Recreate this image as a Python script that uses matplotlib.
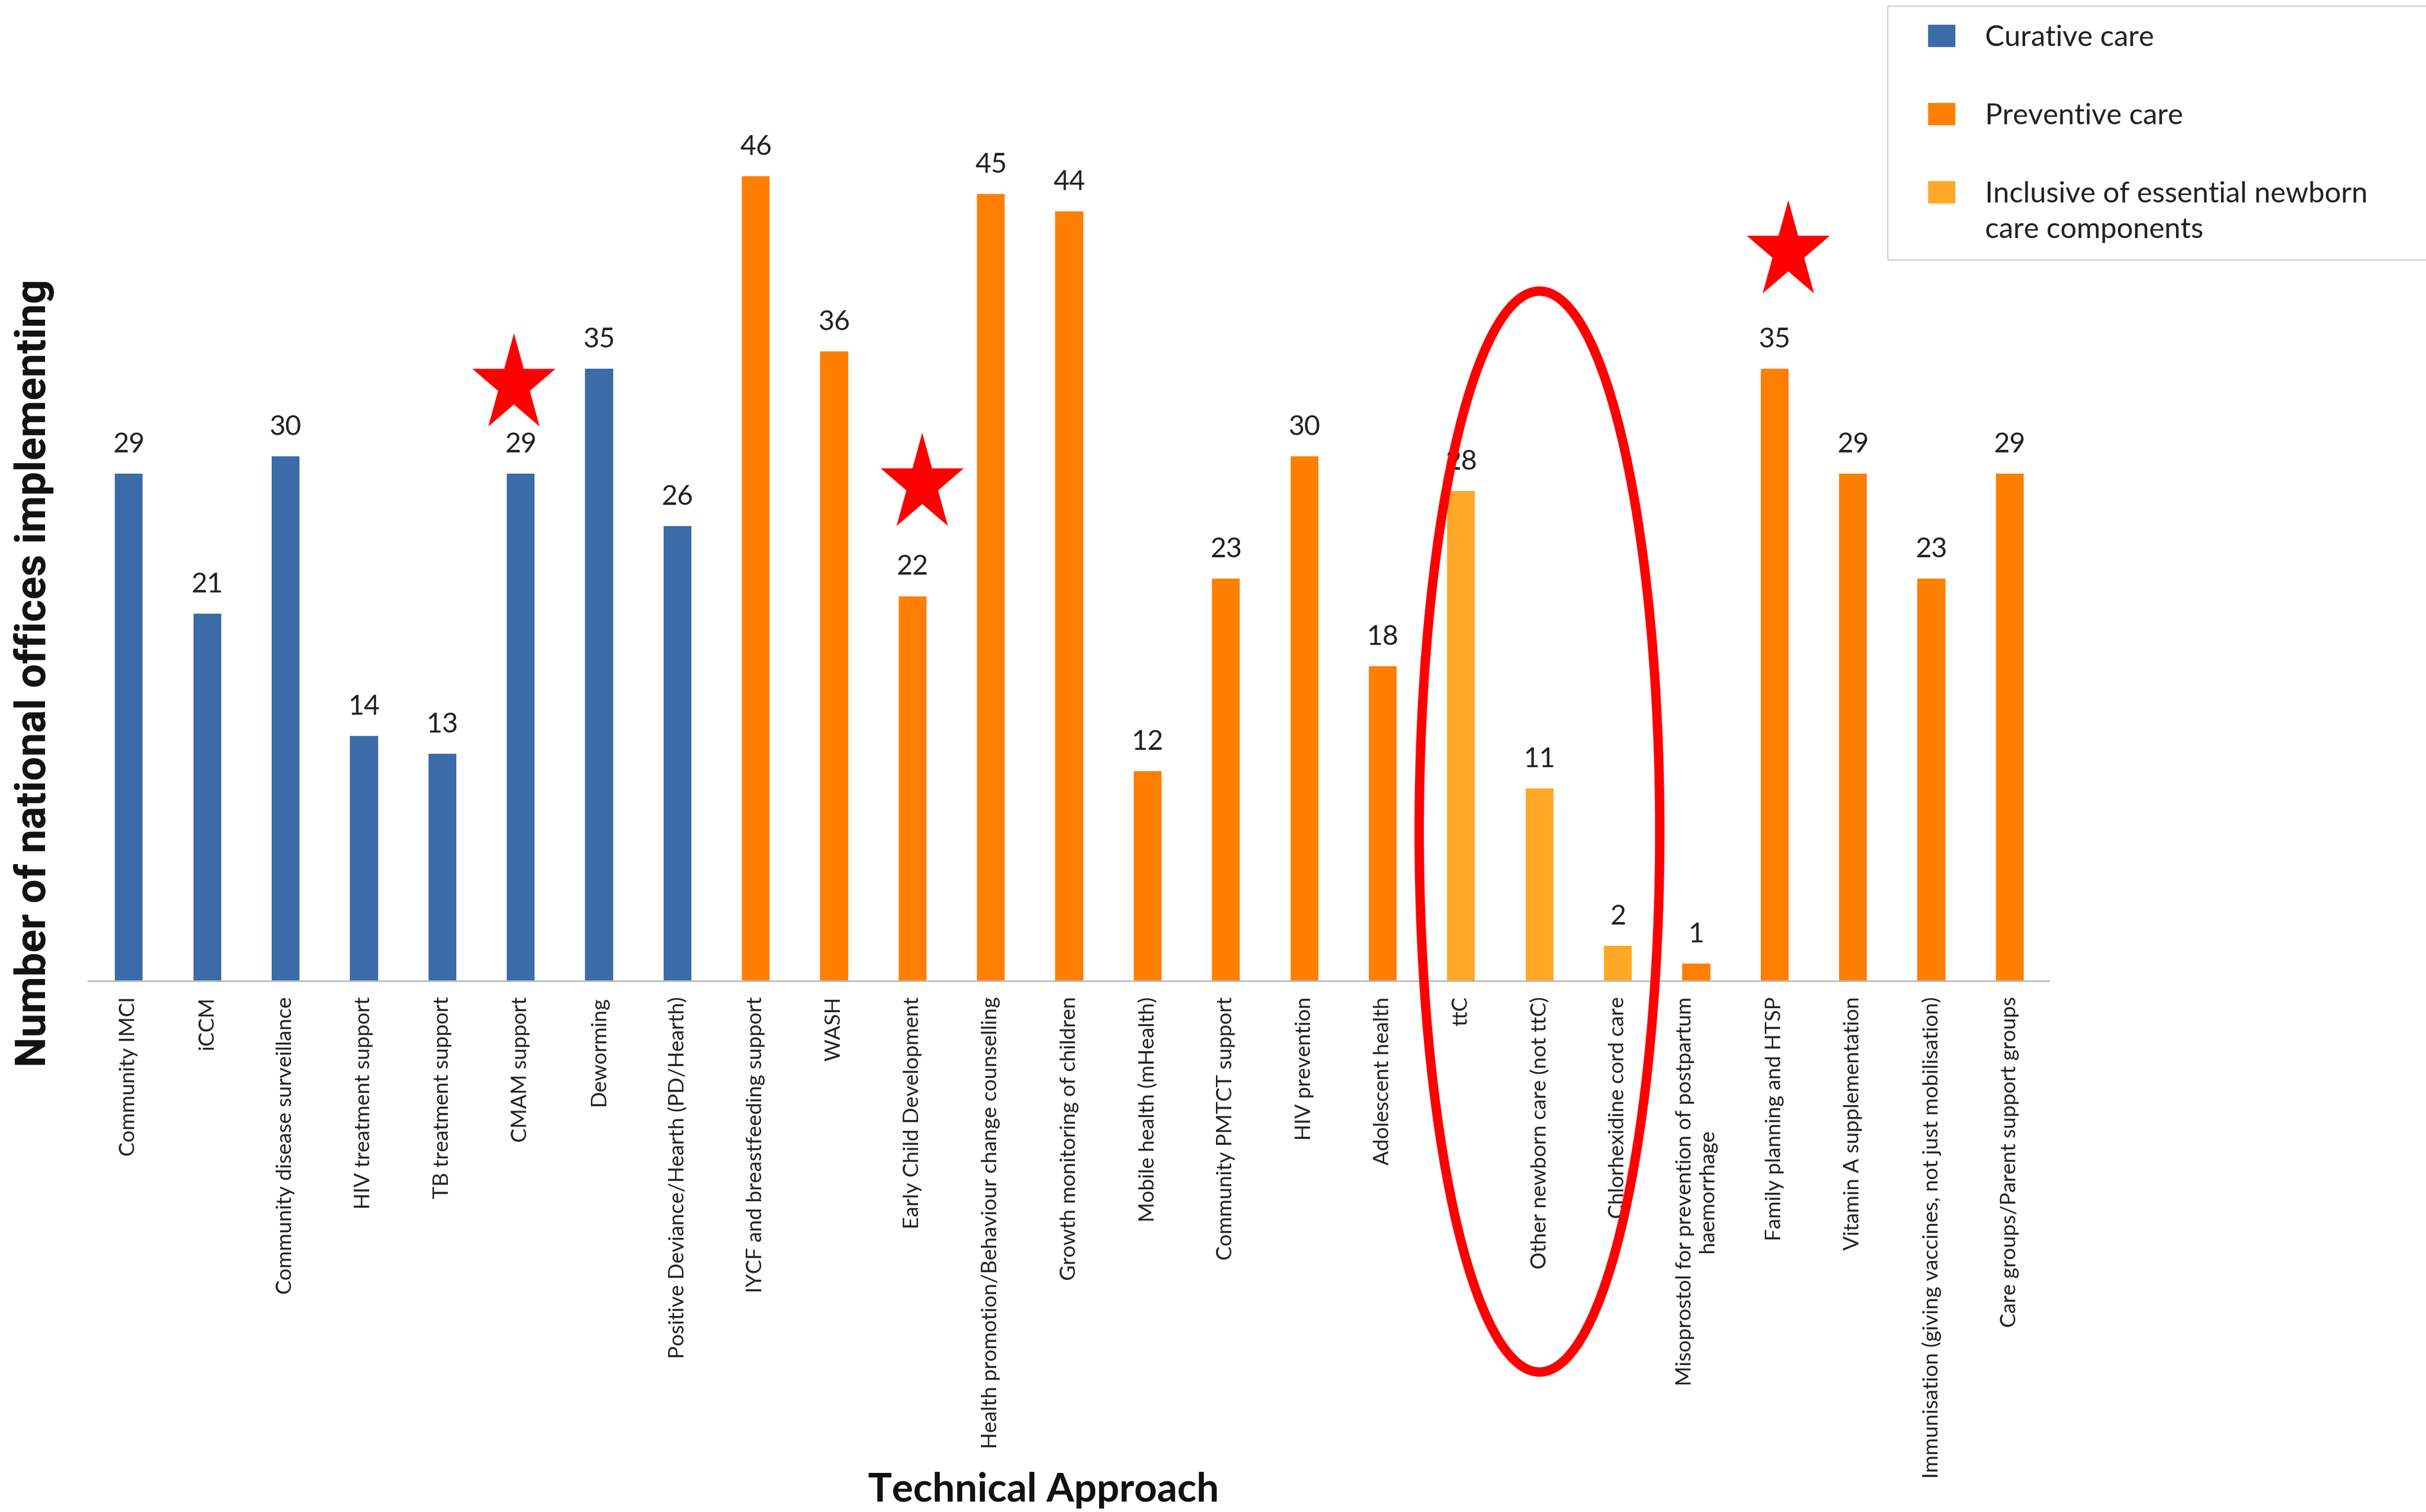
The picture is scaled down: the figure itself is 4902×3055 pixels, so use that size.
import matplotlib
matplotlib.use('Agg')
import matplotlib.pyplot as plt
import numpy as np
from matplotlib.patches import Ellipse, Rectangle, Patch
from matplotlib.path import Path
from matplotlib.legend_handler import HandlerPatch

# ---------------- data ----------------
categories = [
    "Community IMCI", "iCCM", "Community disease surveillance",
    "HIV treatment support", "TB treatment support", "CMAM support",
    "Deworming", "Positive Deviance/Hearth (PD/Hearth)",
    "IYCF and breastfeeding support", "WASH", "Early Child Development",
    "Health promotion/Behaviour change counselling",
    "Growth monitoring of children", "Mobile health (mHealth)",
    "Community PMTCT support", "HIV prevention", "Adolescent health",
    "ttC", "Other newborn care (not ttC)", "Chlorhexidine cord care",
    "Misoprostol for prevention of postpartum\nhaemorrhage",
    "Family planning and HTSP", "Vitamin A supplementation",
    "Immunisation (giving vaccines, not just mobilisation)",
    "Care groups/Parent support groups",
]
values = [29, 21, 30, 14, 13, 29, 35, 26,
          46, 36, 22, 45, 44, 12, 23, 30, 18,
          28, 11, 2,
          1, 35, 29, 23, 29]
groups = (["Curative care"] * 8 + ["Preventive care"] * 9 +
          ["Inclusive of essential newborn\ncare components"] * 3 +
          ["Preventive care"] * 5)
group_order = ["Curative care", "Preventive care",
               "Inclusive of essential newborn\ncare components"]
group_colors = {"Curative care": "#3B6BA8",
                "Preventive care": "#FF7F00",
                "Inclusive of essential newborn\ncare components": "#FFA828"}
star_categories = ["CMAM support", "Early Child Development", "Family planning and HTSP"]

FONT = ['Lato', 'DejaVu Sans']
plt.rcParams['font.family'] = FONT

W, H = 4902, 3055
fig = plt.figure(figsize=(W / 100, H / 100), dpi=100)
ax = fig.add_axes([178 / W, 1073 / H, (4140 - 178) / W, 1767 / H])

x = np.arange(len(categories))
colors = [group_colors[g] for g in groups]
ax.bar(x, values, width=0.355, color=colors, zorder=2)

for xi, v in zip(x, values):
    ax.annotate(str(v), (xi, v), xytext=(0, 31), textcoords='offset points',
                ha='center', va='baseline', fontsize=40, color='#222222')

ax.set_xlim(-0.52, 24.5)
ax.set_ylim(0, 50)
ax.set_yticks([])
for s in ['left', 'top', 'right']:
    ax.spines[s].set_visible(False)
ax.spines['bottom'].set_color('#BDBDBD')
ax.spines['bottom'].set_linewidth(2.4)
ax.set_xticks(x)
ax.set_xticklabels(categories, rotation=90, fontsize=31, color='#222222',
                   ha='center', va='top', multialignment='center')
ax.tick_params(axis='x', length=0, pad=23)

# y label (condensed bold)
fig.text(69 / W, 1 - 1360 / H, "Number of national offices implementing",
         rotation=90, ha='center', va='center', fontsize=62, fontweight='bold',
         family=['Liberation Sans Narrow', 'DejaVu Sans Condensed', 'Roboto', 'DejaVu Sans'],
         color='#111111')
# x label
fig.text(2109 / W, 1 - 3034 / H, "Technical Approach", ha='center', va='baseline',
         fontsize=58, fontweight='bold', color='#111111')

# stars (vertically stretched five-point star)
ang = np.pi / 2 + np.arange(10) * np.pi / 5
rad = np.where(np.arange(10) % 2 == 0, 1.0, 0.382)
verts = np.column_stack([rad * np.cos(ang), 1.18 * rad * np.sin(ang)])
verts = np.vstack([verts, verts[:1]])
codes = [Path.MOVETO] + [Path.LINETO] * 9 + [Path.CLOSEPOLY]
star = Path(verts, codes)
star_pos = {"CMAM support": (4.91, 34.1),
            "Early Child Development": (10.12, 28.4),
            "Family planning and HTSP": (21.17, 41.7)}
for c in star_categories:
    sx, sy = star_pos[c]
    ax.plot([sx], [sy], marker=star, markersize=150, color='#FF0000',
            markeredgewidth=0, linestyle='none', clip_on=False, zorder=6)

# highlight ellipse around newborn-care bars
ax.add_patch(Ellipse((18.0, 8.54), width=3.07, height=61.8, fill=False,
                     edgecolor='#FF0000', linewidth=13.7, clip_on=False, zorder=5))

# legend
LEG_FS = 42
LINE_SP = 1.45


def top_aligned(legend, orig_handle, xdescent, ydescent, width, height, fontsize):
    shift = 30
    return Rectangle((-xdescent, -ydescent + shift), width, height)


handles = [Patch(facecolor=group_colors[g], edgecolor='none') for g in group_order]
leg = fig.legend(handles, group_order, loc='upper left',
                 bbox_to_anchor=(3896 / W, 1 - 50 / H), bbox_transform=fig.transFigure,
                 frameon=False, fontsize=LEG_FS, handlelength=0.94, handleheight=0.82,
                 handletextpad=1.03, labelspacing=1.8, borderpad=0, borderaxespad=0,
                 handler_map={handles[2]: HandlerPatch(patch_func=top_aligned)})
for t in leg.get_texts():
    t.set_color('#222222')
    t.set_linespacing(LINE_SP)
fig.patches.append(Rectangle((3814 / W, 1 - 525 / H), (4990 - 3814) / W, 513 / H,
                             transform=fig.transFigure, fill=False,
                             edgecolor='#D3D3D3', linewidth=2.0, clip_on=False))

fig.savefig('out.png', dpi=100)
